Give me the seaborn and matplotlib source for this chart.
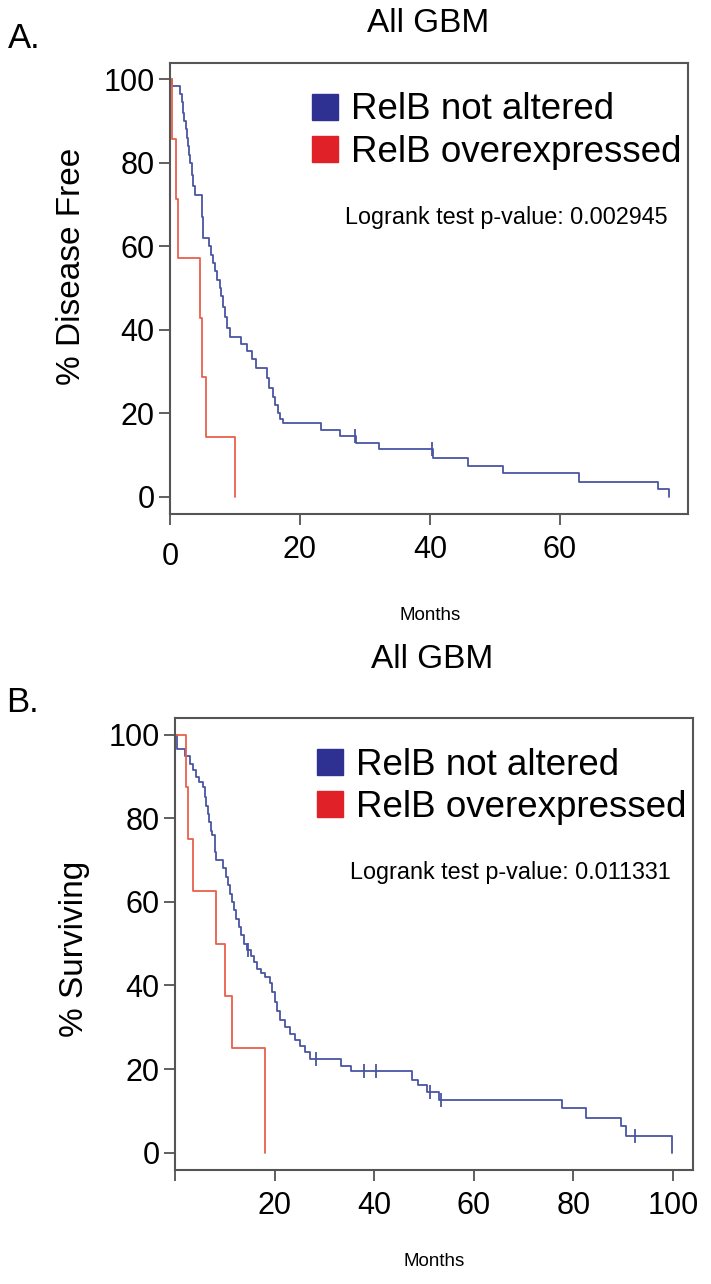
import pandas as pd
import seaborn as sns
import matplotlib.pyplot as plt
from matplotlib.lines import Line2D
import matplotlib.transforms as mtransforms

# panel A - disease free
a_blue_t = [0, 0.3, 1.5, 1.8, 2.0, 2.2, 2.4, 2.6, 2.8, 3.0, 3.1, 3.4, 3.6, 3.8, 4.9, 5.1,
            6.0, 6.3, 6.6, 6.9, 7.3, 7.7, 7.9, 8.2, 8.5, 8.8, 9.2, 11.0, 11.8, 12.6, 13.2,
            14.9, 15.3, 15.8, 16.2, 16.6, 17.0, 17.4, 23.3, 26.2, 28.6, 32.1, 40.4, 45.9,
            51.2, 63.0, 75.1, 76.7]
a_blue_s = [100, 98.5, 96.5, 94.5, 92, 90, 88, 86, 84, 82, 80, 77, 74.5, 72.3, 67, 62,
            60, 58, 56, 54, 52, 50, 48, 45.5, 43, 40.5, 38.3, 36.5, 34.8, 33, 30.8,
            28.5, 26, 24, 22, 20, 18.5, 17.6, 16.0, 14.6, 12.9, 11.4, 9.3, 7.4,
            5.6, 3.6, 1.8, 0]
a_blue_cens_t = [28.5, 40.3]
a_blue_cens_s = [14.6, 11.4]
a_red_t = [0, 0.3, 1.0, 1.2, 4.6, 4.9, 5.6, 10.0]
a_red_s = [100, 85.7, 71.4, 57.1, 42.9, 28.6, 14.3, 0]

# panel B - overall survival
b_blue_t = [0, 0.5, 2.0, 3.0, 3.6, 4.2, 4.9, 5.7, 6.0, 6.3, 6.6, 6.9, 7.2, 7.4, 8.0, 8.3,
            9.7, 10.2, 10.6, 11.0, 11.4, 11.8, 12.3, 12.8, 13.3, 13.8, 14.4, 15.2, 15.8,
            16.5, 17.2, 18.0, 19.1, 19.5, 20.0, 20.5, 21.0, 22.0, 23.0, 24.0, 25.0, 26.0,
            27.1, 33.4, 35.4, 47.6, 48.8, 50.5, 53.0, 77.6, 82.6, 89.6, 90.5, 99.8]
b_blue_s = [100, 96.7, 95, 93, 91.5, 90, 88.7, 87.5, 85, 83, 81, 79, 77, 76, 72, 70,
            68, 66, 64, 62, 60, 58, 56, 54, 52, 50, 48.5, 47, 45.5,
            44, 43, 42, 40.6, 38.5, 36, 34, 31.8, 30, 28.5, 27, 25.5, 24,
            22.3, 20.7, 19.5, 17.5, 16.2, 14.5, 12.7, 10.7, 8.4, 6.4, 4.0, 0]
b_blue_cens_t = [14.7, 28.4, 37.9, 40.3, 51.2, 53.5, 92.4]
b_blue_cens_s = [48.5, 22.3, 19.5, 19.5, 14.5, 12.7, 4.0]
b_red_t = [0, 2.3, 2.7, 3.7, 8.2, 10.0, 11.4, 18.0]
b_red_s = [100, 87.5, 75, 62.5, 50, 37.5, 25, 0]

groups = ["RelB not altered", "RelB overexpressed"]
line_colors = {"RelB not altered": "#4a55a2", "RelB overexpressed": "#e8604c"}
box_colors = ["#2e3192", "#e02127"]

sns.set_style("ticks")
plt.rcParams['font.family'] = ['Liberation Sans', 'DejaVu Sans']
plt.rcParams['text.color'] = 'black'
plt.rcParams['axes.labelcolor'] = 'black'
plt.rcParams['xtick.labelcolor'] = 'black'
plt.rcParams['ytick.labelcolor'] = 'black'

fig = plt.figure(figsize=(7.11, 12.84), dpi=100)
ax_a = fig.add_axes([170/711, 1-514/1284, 518/711, 451.3/1284])
ax_b = fig.add_axes([175/711, 1-1170/1284, 518/711, 452/1284])


def km_panel(ax, blue_t, blue_s, red_t, red_s, cens_t, cens_s, xmax, ylab, pval, xticks, xlabels):
    df = pd.concat([
        pd.DataFrame({"t": blue_t, "s": blue_s, "g": groups[0]}),
        pd.DataFrame({"t": red_t, "s": red_s, "g": groups[1]}),
    ])
    sns.lineplot(data=df, x="t", y="s", hue="g", palette=line_colors, estimator=None,
                 sort=False, drawstyle="steps-post", linewidth=1.3, legend=False, ax=ax)
    cens = pd.DataFrame({"t": cens_t, "s": cens_s})
    sns.scatterplot(data=cens, x="t", y="s", marker="|", s=110, linewidth=1.3,
                    color=line_colors[groups[0]], ax=ax, zorder=3)
    ax.set_xlim(0, xmax)
    ax.set_ylim(-4.15, 104)
    ax.set_yticks([0, 20, 40, 60, 80, 100])
    ax.set_xticks(xticks)
    ax.set_xticklabels(xlabels)
    ax.tick_params(labelsize=22, length=8, width=1.2, color="#444444", pad=3)
    ax.tick_params(axis="x", pad=7)
    for sp in ax.spines.values():
        sp.set_visible(True)
        sp.set_color("#555555")
        sp.set_linewidth(1.5)
    ax.set_xlabel("")
    ax.set_ylabel(ylab, fontsize=24)
    handles = [Line2D([], [], marker="s", linestyle="", markersize=19, color=c) for c in box_colors]
    ax.legend(handles, groups, loc="upper left", bbox_to_anchor=(0.222, 0.975), frameon=False,
              fontsize=26.5, handletextpad=0.1, labelspacing=0.2, borderpad=0, handlelength=1.2)
    ax.text(0.338, 0.658, "Logrank test p-value: " + pval, transform=ax.transAxes,
            fontsize=16.8, va="center", ha="left")


km_panel(ax_a, a_blue_t, a_blue_s, a_red_t, a_red_s, a_blue_cens_t, a_blue_cens_s,
         79.7, "% Disease Free", "0.002945", [0, 20, 40, 60], ["", "20", "40", "60"])
km_panel(ax_b, b_blue_t, b_blue_s, b_red_t, b_red_s, b_blue_cens_t, b_blue_cens_s,
         104, "% Surviving", "0.011331", [0, 20, 40, 60, 80, 100], ["", "20", "40", "60", "80", "100"])

# the "0" on panel A sits a little lower than the other x labels
ax_a.text(0, -0.095, "0", transform=mtransforms.blended_transform_factory(ax_a.transData, ax_a.transAxes),
          fontsize=22, ha="center", va="center")

ax_a.yaxis.set_label_coords(-0.16, 0.548)
ax_b.yaxis.set_label_coords(-0.165, 0.49)

fig.text(428/711, 1-24/1284, "All GBM", fontsize=24, ha="center", va="center")
fig.text(432/711, 1-660/1284, "All GBM", fontsize=24, ha="center", va="center")
fig.text(8/711, 1-38/1284, "A.", fontsize=25, ha="left", va="center")
fig.text(6/711, 1-703/1284, "B.", fontsize=25, ha="left", va="center")
fig.text(430/711, 1-615/1284, "Months", fontsize=13.5, ha="center", va="center")
fig.text(434/711, 1-1262/1284, "Months", fontsize=13.5, ha="center", va="center")

fig.savefig("out.png", dpi=100, facecolor="white")
plt.close()
